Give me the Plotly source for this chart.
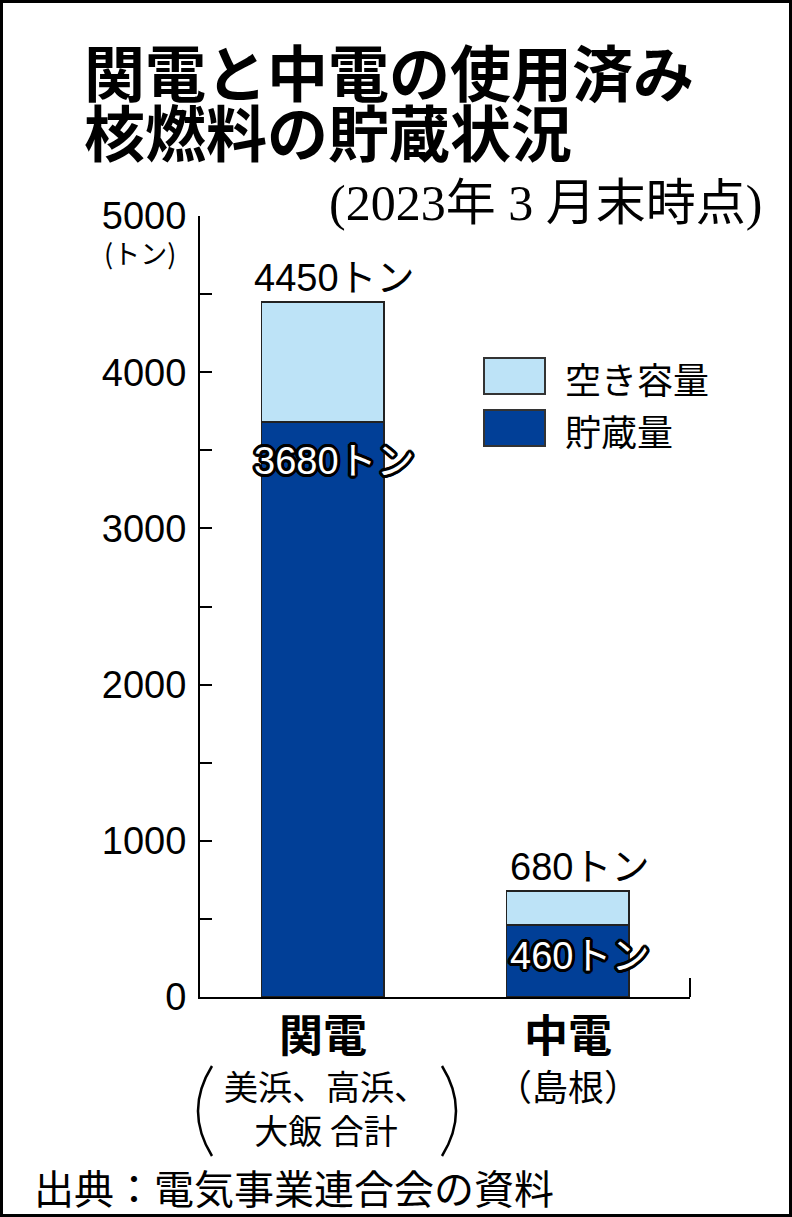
import plotly.graph_objects as go

# ---- data ----
categories = ["関電", "中電"]
stored = [3680, 460]          # 貯蔵量
capacity = [4450, 680]        # total capacity
free = [c - s for c, s in zip(capacity, stored)]  # 空き容量
stored_labels = ["3680トン", "460トン"]
capacity_labels = ["4450トン", "680トン"]
y_ticks = [0, 500, 1000, 1500, 2000, 2500, 3000, 3500, 4000, 4500, 5000]
y_ticktext = ["0", "", "1000", "", "2000", "", "3000", "", "4000", "", "5000"]

W_IMG, H_IMG = 792, 1217
L, R, T, B = 200, 690, 216, 997
PW, PH = R - L, B - T

def px(x):
    return (x - L) / PW

def py(y):
    return (B - y) / PH

SANS = "Liberation Sans, Arial, Noto Sans CJK JP, sans-serif"
CJK = "Noto Sans CJK JP, sans-serif"
SERIF = "Liberation Serif, Noto Sans CJK JP, serif"
LIGHT = "#bde3f7"
DARK = "#013f97"

fig = go.Figure()
fig.add_trace(go.Bar(x=categories, y=stored, name="貯蔵量", marker=dict(color=DARK, line=dict(color="#222", width=1.5)), width=0.5))
fig.add_trace(go.Bar(x=categories, y=free, name="空き容量", marker=dict(color=LIGHT, line=dict(color="#222", width=1.5)), width=0.5))

outline = ",".join(f"{dx}px {dy}px 0 #000" for dx in (-3, -2, -1, 0, 1, 2, 3) for dy in (-3, -2, -1, 0, 1, 2, 3)
                   if (dx, dy) != (0, 0) and dx * dx + dy * dy <= 10)

def pann(x, y, text, size, family=CJK, xanchor="center", color="black", **kw):
    return dict(x=px(x), y=py(y), xref="paper", yref="paper", text=text, showarrow=False,
                xanchor=xanchor, yanchor="middle", font=dict(family=family, size=size, color=color), **kw)

ann = []
# totals above bars
for c, v, t in zip(categories, capacity, capacity_labels):
    ann.append(dict(x=c, y=v, xref="x", yref="y", text=t, showarrow=False, xanchor="center", yanchor="bottom",
                    xshift=12, yshift=1, font=dict(family=SANS, size=38, color="black")))
# stored labels (white outlined)
for i, (c, v, t) in enumerate(zip(categories, stored, stored_labels)):
    ann.append(dict(x=c, y=v, xref="x", yref="y", text=t, showarrow=False, xanchor="center", yanchor="top",
                    xshift=12, yshift=-16 if i == 0 else -8,
                    font=dict(family=SANS, size=38, color="white", shadow=outline)))
# category labels
for c in categories:
    ann.append(dict(x=c, y=py(1033), xref="x", yref="paper", text=f"<b>{c}</b>", showarrow=False,
                    xanchor="center", yanchor="middle", font=dict(family=CJK, size=44, color="black")))
# sub labels
ann.append(pann(326, 1107, "美浜、高浜、<br>大飯 合計", 34))
ann.append(dict(x=categories[1], y=py(1085), xref="x", yref="paper", text="（島根）", showarrow=False,
                xanchor="center", yanchor="middle", font=dict(family=CJK, size=36, color="black")))
# title
ann.append(pann(82, 70, "<b>関電と中電の使用済み</b>", 61, xanchor="left"))
ann.append(pann(82, 130, "<b>核燃料の貯蔵状況</b>", 61, xanchor="left"))
ann.append(pann(764, 203, "(2023年 3 月末時点)", 50, family=SERIF, xanchor="right"))
# unit
ann.append(pann(140, 253, "(トン)", 27))
# legend text
ann.append(pann(563, 378, "空き容量", 36, xanchor="left"))
ann.append(pann(563, 430, "貯蔵量", 36, xanchor="left"))
# source
ann.append(pann(32, 1190, "出典：電気事業連合会の資料", 40, family=SERIF, xanchor="left"))

def paren(x_end, x_mid, y0, y1):
    ym = (y0 + y1) / 2
    return (f"M {px(x_end)},{py(y0)} Q {px(x_mid)},{py(ym)} {px(x_end)},{py(y1)}")

shapes = [
    # legend swatches
    dict(type="rect", xref="paper", yref="paper", x0=px(484), x1=px(545), y0=py(394), y1=py(358),
         fillcolor=LIGHT, line=dict(color="#333", width=2)),
    dict(type="rect", xref="paper", yref="paper", x0=px(484), x1=px(545), y0=py(446), y1=py(410),
         fillcolor=DARK, line=dict(color="#333", width=2)),
    # big parentheses around sub label
    dict(type="path", xref="paper", yref="paper", path=paren(212, 184, 1066, 1156), line=dict(color="black", width=2.5)),
    dict(type="path", xref="paper", yref="paper", path=paren(442, 470, 1066, 1156), line=dict(color="black", width=2.5)),
    # right end tick of x axis
    dict(type="line", xref="paper", yref="paper", x0=1, x1=1, y0=0, y1=py(978), line=dict(color="black", width=2)),
    # frame
    dict(type="rect", xref="paper", yref="paper", x0=px(1.5), x1=px(W_IMG - 1.5), y0=py(H_IMG - 1.5), y1=py(1.5),
         line=dict(color="black", width=3), fillcolor="rgba(0,0,0,0)"),
]

fig.update_layout(
    width=W_IMG, height=H_IMG,
    margin=dict(l=L, r=W_IMG - R, t=T, b=H_IMG - B, pad=0),
    barmode="stack", showlegend=False,
    plot_bgcolor="white", paper_bgcolor="white",
    annotations=ann, shapes=shapes,
    xaxis=dict(type="category", range=[-0.5, 1.5], showline=True, linecolor="black", linewidth=2,
               showticklabels=False, ticks="", showgrid=False, zeroline=False, fixedrange=True),
    yaxis=dict(range=[0, 5000], tickvals=y_ticks, ticktext=y_ticktext, ticks="inside", ticklen=12,
               tickwidth=2, tickcolor="black", showline=True, linecolor="black", linewidth=2,
               showgrid=False, zeroline=False, ticklabelstandoff=4,
               tickfont=dict(family=SANS, size=38, color="black")),
)

fig.write_html("out.html", config={"displayModeBar": False},
               post_script="document.body.style.margin='0';document.body.style.overflow='hidden';")
